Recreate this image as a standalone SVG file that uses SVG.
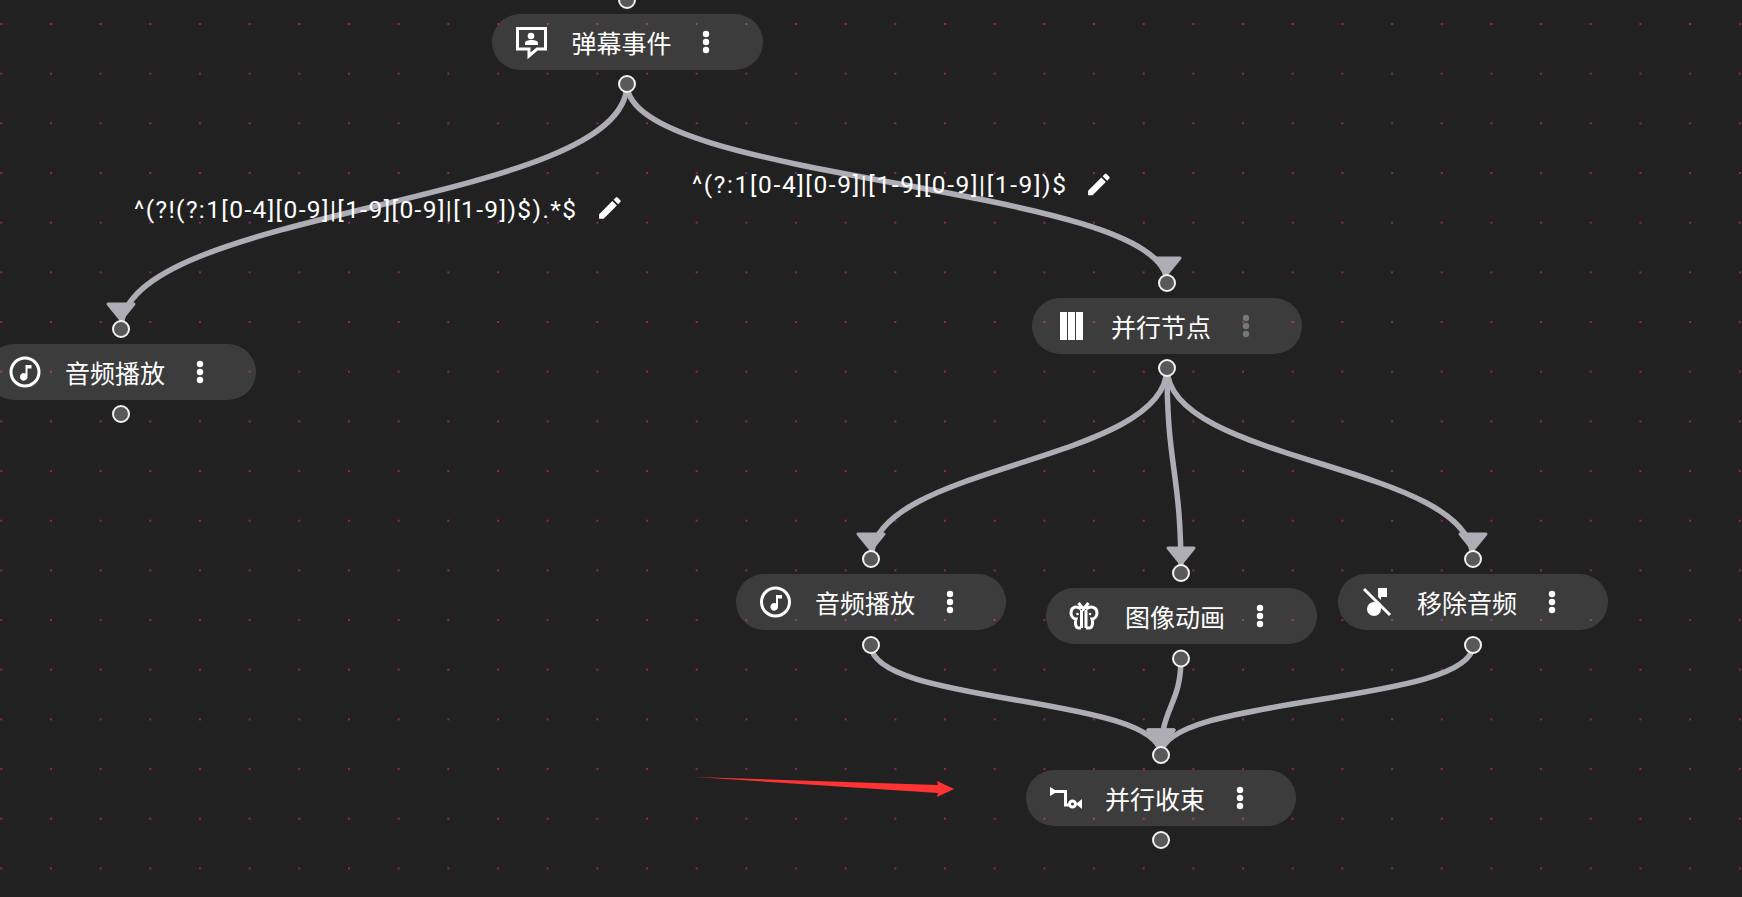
<svg xmlns="http://www.w3.org/2000/svg" width="1742" height="897" viewBox="0 0 1742 897">
<style>
.pill{fill:#fff;fill-opacity:.125}
.port{fill:#595959;stroke:#f2f2f2;stroke-width:2}
.lbl{font-family:"Noto Sans CJK SC","Liberation Sans",sans-serif;font-size:25px;fill:#fff;text-anchor:middle;dominant-baseline:central}
.re{font-family:Roboto,"Noto Sans",sans-serif;font-size:24.5px;fill:#fff}
.edge{fill:none;stroke:#aeadb5;stroke-width:5.500;marker-end:url(#arr)}
.ic{fill:#fff}
.ics{fill:none;stroke:#fff;stroke-width:3}
</style>
<defs>
<pattern id="grid" x="0.3" y="23" width="49.67" height="49.67" patternUnits="userSpaceOnUse"><rect width="2" height="2" fill="#8a2468"/></pattern>
<marker id="arr" markerUnits="userSpaceOnUse" orient="0" markerWidth="44" markerHeight="46" refX="20" refY="41">
<path d="M7 16H33L20 32Z" fill="#aeadb5" stroke="#aeadb5" stroke-width="3" stroke-linejoin="round"/></marker>
<g id="dots"><circle cy="-8" r="3.2"/><circle r="3.2"/><circle cy="8" r="3.2"/></g>
<g id="note"><circle r="14" class="ics"/><path class="ic" d="M.5 -7V1.500A3.800 3.800 0 1 0 2.500 4.500V-3.500H6.500V-7Z"/></g>
<path id="pen" d="M3 17.25V21h3.75L17.81 9.94l-3.75-3.75L3 17.25zM20.71 7.04a1 1 0 0 0 0-1.41l-2.34-2.34a1 1 0 0 0-1.41 0l-1.83 1.83 3.75 3.75 1.83-1.83z"/>
</defs>
<rect width="1742" height="897" fill="#212121"/>
<rect width="1742" height="897" fill="url(#grid)"/>
<g id="connectors">
<path class="edge" d="M627 84C627 206.5 121 206.5 121 329"/>
<path class="edge" d="M627 84C627 183.5 1167 183.5 1167 283"/>
<path class="edge" d="M1167 368C1167 463.5 871 463.5 871 559"/>
<path class="edge" d="M1167 368C1167 470 1181 470 1181 573"/>
<path class="edge" d="M1167 368C1167 463.5 1473 463.5 1473 559"/>
<path class="edge" d="M871 645C871 705 1161 695 1161 755"/>
<path class="edge" d="M1181 658C1181 706 1161 706 1161 755"/>
<path class="edge" d="M1473 645C1473 705 1161 695 1161 755"/>
</g>
<g id="n-danmu"><rect class="pill" x="492" y="14" width="271" height="56" rx="28"/>
<circle class="port" cx="627" cy="0" r="8"/><circle class="port" cx="627" cy="84" r="8"/>
<path class="ics" stroke-linejoin="miter" d="M517.500 28.500H545.500V49H537L529 56V49H517.500Z"/>
<circle class="ic" cx="531" cy="36" r="3.300"/><path class="ic" d="M525 45V43C525 41 528 40 531.500 40S538 41 538 43V45Z"/>
<text class="lbl" x="621.500" y="42">弹幕事件</text><use href="#dots" x="706" y="42" fill="#fff"/></g>
<g id="n-audio-left"><rect class="pill" x="-14" y="344" width="270" height="56" rx="28"/>
<circle class="port" cx="121" cy="329" r="8"/><circle class="port" cx="121" cy="414" r="8"/>
<use href="#note" x="25" y="372"/>
<text class="lbl" x="115" y="372">音频播放</text><use href="#dots" x="200" y="372" fill="#fff"/></g>
<g id="n-parallel"><rect class="pill" x="1032" y="298" width="270" height="56" rx="28"/>
<circle class="port" cx="1167" cy="283" r="8"/><circle class="port" cx="1167" cy="368" r="8"/>
<path class="ic" d="M1060 312h7v28h-7zM1068 312h7v28h-7zM1076 312h7v28h-7z"/>
<text class="lbl" x="1161" y="326">并行节点</text><use href="#dots" x="1246" y="326" fill="#777"/></g>
<g id="n-audio-mid"><rect class="pill" x="736" y="574" width="270" height="56" rx="28"/>
<circle class="port" cx="871" cy="559" r="8"/><circle class="port" cx="871" cy="645" r="8"/>
<use href="#note" x="775.500" y="602"/>
<text class="lbl" x="865" y="602">音频播放</text><use href="#dots" x="950" y="602" fill="#fff"/></g>
<g id="n-image"><rect class="pill" x="1046" y="588" width="271" height="56" rx="28"/>
<circle class="port" cx="1181" cy="573" r="8"/><circle class="port" cx="1181" cy="658.500" r="8"/>
<path class="ics" d="M1081.500 610V628M1086 610V628M1078.500 603L1083.500 609L1088.500 603M1081 609C1075 605 1071 608 1071 613C1071 617 1074 619 1076 619C1075 622 1075 628 1079 628H1081M1086 609C1092 605 1097 608 1097 613C1097 617 1094 619 1092 619C1093 622 1093 628 1089 628H1086"/>
<circle class="ic" cx="1077.500" cy="614" r="1.300"/><circle class="ic" cx="1090" cy="614" r="1.300"/>
<text class="lbl" x="1175" y="616">图像动画</text><use href="#dots" x="1260" y="616" fill="#fff"/></g>
<g id="n-remove"><rect class="pill" x="1338" y="574" width="270" height="56" rx="28"/>
<circle class="port" cx="1473" cy="559" r="8"/><circle class="port" cx="1473" cy="645" r="8"/>
<circle class="ic" cx="1374" cy="609" r="7"/><path class="ic" d="M1378 588H1387V597H1381V608H1378Z"/>
<path d="M1366 587L1392 613" stroke="#3d3d3d" stroke-width="3"/><path d="M1364 589L1390 615" stroke="#fff" stroke-width="3"/>
<text class="lbl" x="1467" y="602">移除音频</text><use href="#dots" x="1552" y="602" fill="#fff"/></g>
<g id="n-join"><rect class="pill" x="1026" y="770" width="270" height="56" rx="28"/>
<circle class="port" cx="1161" cy="755" r="8"/><circle class="port" cx="1161" cy="840" r="8"/>
<path class="ic" d="M1050 787L1055 790H1067V803.500H1070V806.500H1064V793H1055L1050 796Z"/><circle class="ics" stroke-width="2.500" cx="1072.500" cy="804" r="3"/><path class="ic" d="M1082 799V809L1076 804Z"/>
<text class="lbl" x="1155" y="798">并行收束</text><use href="#dots" x="1240" y="798" fill="#fff"/></g>
<g id="edge-labels">
<text class="re" x="134" y="218" textLength="442">^(?!(?:1[0-4][0-9]|[1-9][0-9]|[1-9])$).*$</text>
<use href="#pen" class="ic" transform="translate(595.500 193.500) scale(1.2)"/>
<text class="re" x="692" y="193" textLength="374">^(?:1[0-4][0-9]|[1-9][0-9]|[1-9])$</text>
<use href="#pen" class="ic" transform="translate(1084.500 170) scale(1.2)"/>
</g>
<path id="red-arrow" fill="#ff3333" d="M695 777L938 785L937 781L954 789L937 797L938 793Z"/>
</svg>
